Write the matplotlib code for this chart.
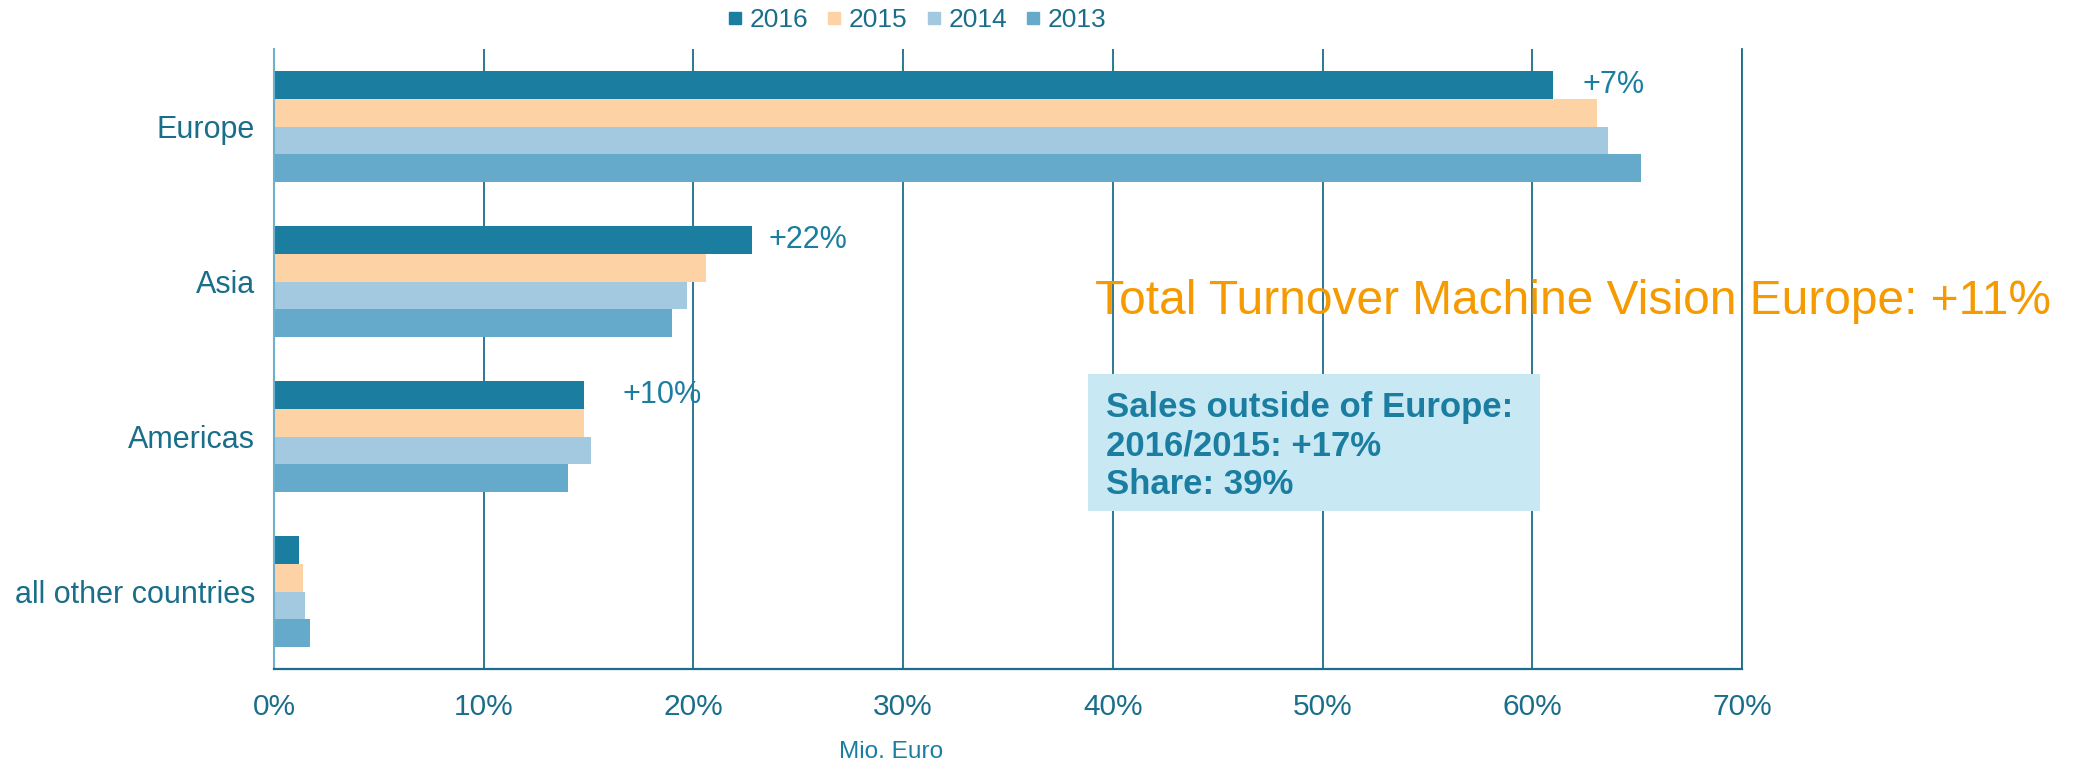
import matplotlib
matplotlib.use('Agg')
from matplotlib import pyplot as plt
from matplotlib.lines import Line2D
from matplotlib.patches import Rectangle
import numpy as np

# Data (share of turnover, %)
regions = ['Europe', 'Asia', 'Americas', 'all other countries']
years = ['2016', '2015', '2014', '2013']
share_2016 = [61.0, 22.8, 14.8, 1.2]
share_2015 = [63.1, 20.6, 14.8, 1.4]
share_2014 = [63.6, 19.7, 15.1, 1.5]
share_2013 = [65.2, 19.0, 14.0, 1.7]
growth_labels = ['+7%', '+22%', '+10%']
growth_x = [62.4, 23.6, 16.6]
xticks = [0, 10, 20, 30, 40, 50, 60, 70]
box_lines = ['Sales outside of Europe:', '2016/2015: +17%', 'Share: 39%']
headline = 'Total Turnover Machine Vision Europe: +11%'

colors = ['#1b7ea0', '#fdd2a5', '#a2c9e0', '#66aacb']
teal_text = '#1a6e8a'
grid_col = '#1a6e8a'

plt.rcParams['font.family'] = ['Liberation Sans', 'DejaVu Sans']

fig = plt.figure(figsize=(20.77, 7.66), dpi=100)
ax = fig.add_axes([0.1319, 0.1266, 0.8387 - 0.1319, 0.936 - 0.1266])

series = [share_2016, share_2015, share_2014, share_2013]
offsets = [-0.27, -0.09, 0.09, 0.27]
y = np.arange(len(regions))
for vals, off, c, lab in zip(series, offsets, colors, years):
    ax.barh(y + off, vals, height=0.18, color=c, label=lab, zorder=2)

# growth annotations next to 2016 bars
for i in range(len(growth_labels)):
    ax.text(growth_x[i], i - 0.27, growth_labels[i], color=colors[0],
            fontsize=22, va='center', ha='left', zorder=4)

ax.set_xlim(0, 70)
ax.set_ylim(3.5, -0.5)
ax.set_xticks(xticks)
ax.set_xticklabels(['%d%%' % t for t in xticks], fontsize=21.5, color=teal_text)
ax.set_yticks(y)
ax.set_yticklabels(regions, fontsize=22, color=teal_text)
ax.tick_params(axis='x', length=0, pad=17)
ax.tick_params(axis='y', length=0, pad=13.5)
ax.grid(axis='x', color=grid_col, linewidth=1.3, zorder=1)
ax.set_axisbelow(True)
ax.spines['top'].set_visible(False)
ax.spines['right'].set_color(grid_col)
ax.spines['right'].set_linewidth(1.3)
ax.spines['left'].set_color('#6fb0cc')
ax.spines['left'].set_linewidth(1.5)
ax.spines['bottom'].set_color(grid_col)
ax.spines['bottom'].set_linewidth(1.6)

# legend on top
handles = [Line2D([], [], marker='s', linestyle='none', markersize=9, color=c) for c in colors]
fig.legend(handles, years, loc='center', bbox_to_anchor=(0.4416, 0.974), ncol=4,
           frameon=False, fontsize=19, handlelength=0.5, handletextpad=0.3,
           columnspacing=0.75, labelcolor=teal_text)

# headline
fig.text(1095 / 2077, 1 - 314 / 766, headline, color='#f59a00', fontsize=34.5, va='baseline')

# info box
box = Rectangle((1088 / 2077, 1 - 511 / 766), 452 / 2077, 137 / 766,
                transform=fig.transFigure, facecolor='#c8e8f4', edgecolor='none', zorder=2)
fig.patches.append(box)
line_y = [408, 446, 485]
for txt, ly in zip(box_lines, line_y):
    fig.text(1106 / 2077, 1 - ly / 766, txt, color=colors[0], fontsize=25,
             fontweight='bold', va='center', ha='left', zorder=3)

fig.text(891 / 2077, 1 - 752 / 766, 'Mio. Euro', fontsize=17.6,
         color=colors[0], ha='center', va='center')

fig.savefig('out.png', dpi=100)
